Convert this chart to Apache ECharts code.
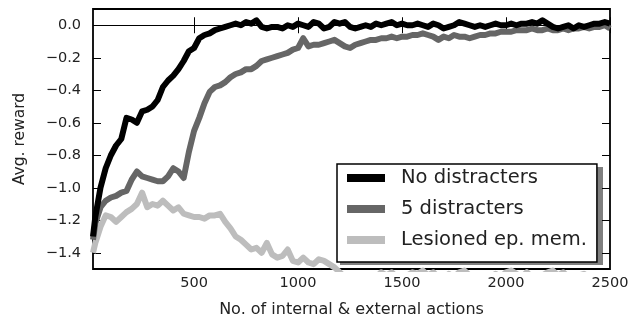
<!DOCTYPE html>
<html><head><meta charset="utf-8">
<script src="https://cdn.jsdelivr.net/npm/echarts@6/dist/echarts.min.js"></script>
<style>html,body{margin:0;padding:0;background:#fff}#c{width:639px;height:323px}</style>
</head><body><div id="c"></div>
<script>
const seriesNames = ['No distracters', '5 distracters', 'Lesioned ep. mem.'];
const xTicks = [500, 1000, 1500, 2000, 2500];
const yTicks = [-1.4, -1.2, -1.0, -0.8, -0.6, -0.4, -0.2, 0.0];
const steps = [14,25,50,75,100,125,150,175,200,225,250,275,300,325,350,375,400,425,450,475,500,525,550,575,600,625,650,675,700,725,750,775,800,825,850,875,900,925,950,975,1000,1025,1050,1075,1100,1125,1150,1175,1200,1225,1250,1275,1300,1325,1350,1375,1400,1425,1450,1475,1500,1525,1550,1575,1600,1625,1650,1675,1700,1725,1750,1775,1800,1825,1850,1875,1900,1925,1950,1975,2000,2025,2050,2075,2100,2125,2150,2175,2200,2225,2250,2275,2300,2325,2350,2375,2400,2425,2450,2475,2500];
const noDistracters = [-1.30,-1.18,-1.00,-0.88,-0.80,-0.74,-0.70,-0.57,-0.58,-0.60,-0.53,-0.52,-0.50,-0.46,-0.38,-0.34,-0.31,-0.27,-0.22,-0.16,-0.14,-0.08,-0.06,-0.05,-0.03,-0.02,-0.01,0.00,0.01,0.00,0.02,0.01,0.03,-0.01,-0.02,-0.01,-0.01,-0.02,0.00,-0.01,0.01,0.00,-0.01,0.02,0.01,-0.02,-0.01,0.02,0.01,0.02,-0.01,-0.02,-0.01,0.00,-0.01,0.01,0.00,0.01,0.02,0.00,0.01,0.00,0.00,0.01,0.00,-0.01,0.01,0.00,-0.02,-0.01,0.00,0.02,0.01,0.00,-0.01,0.00,-0.01,0.00,0.01,0.00,0.00,0.01,0.00,0.01,0.01,0.02,0.01,0.03,0.01,-0.01,-0.02,-0.01,0.00,-0.02,0.00,-0.01,0.00,0.01,0.01,0.02,0.01];
const fiveDistracters = [-1.32,-1.22,-1.12,-1.08,-1.06,-1.05,-1.03,-1.02,-0.95,-0.90,-0.93,-0.94,-0.95,-0.96,-0.96,-0.93,-0.88,-0.90,-0.94,-0.78,-0.65,-0.57,-0.48,-0.41,-0.38,-0.37,-0.35,-0.32,-0.30,-0.29,-0.27,-0.27,-0.25,-0.22,-0.21,-0.20,-0.19,-0.18,-0.17,-0.15,-0.14,-0.08,-0.13,-0.12,-0.12,-0.11,-0.10,-0.09,-0.11,-0.13,-0.14,-0.12,-0.11,-0.10,-0.09,-0.09,-0.08,-0.08,-0.07,-0.08,-0.07,-0.07,-0.06,-0.06,-0.05,-0.06,-0.07,-0.09,-0.07,-0.08,-0.06,-0.07,-0.07,-0.08,-0.07,-0.06,-0.06,-0.05,-0.05,-0.04,-0.04,-0.04,-0.03,-0.03,-0.03,-0.02,-0.03,-0.03,-0.02,-0.03,-0.03,-0.02,-0.03,-0.02,-0.02,-0.01,-0.02,-0.01,-0.01,0.00,-0.02];
const lesioned = [-1.40,-1.34,-1.24,-1.17,-1.18,-1.21,-1.18,-1.15,-1.13,-1.10,-1.03,-1.12,-1.10,-1.11,-1.08,-1.11,-1.14,-1.12,-1.16,-1.17,-1.18,-1.18,-1.19,-1.17,-1.17,-1.16,-1.21,-1.25,-1.30,-1.32,-1.35,-1.38,-1.37,-1.40,-1.34,-1.41,-1.43,-1.42,-1.38,-1.45,-1.46,-1.43,-1.46,-1.47,-1.44,-1.45,-1.47,-1.49,-1.52,-1.55,-1.56,-1.54,-1.56,-1.55,-1.57,-1.55,-1.52,-1.54,-1.52,-1.55,-1.56,-1.54,-1.52,-1.53,-1.51,-1.54,-1.52,-1.55,-1.56,-1.53,-1.55,-1.52,-1.51,-1.54,-1.56,-1.55,-1.57,-1.55,-1.53,-1.55,-1.52,-1.51,-1.53,-1.55,-1.52,-1.55,-1.57,-1.54,-1.52,-1.51,-1.54,-1.52,-1.55,-1.57,-1.54,-1.53,-1.55,-1.57,-1.54,-1.56,-1.55];
const colors = ['#000000', '#666666', '#bdbdbd'];

const font = 'DejaVu Sans';
const pair = arr => steps.map((x, i) => [x, arr[i]]);
const yFmt = v => Math.abs(v) < 1e-9 ? '0.0' : '\u2212' + Math.abs(v).toFixed(1);

const chart = echarts.init(document.getElementById('c'), null, {renderer: 'canvas'});
const xBase = {
  type: 'value', min: 14, max: 2500,
  splitLine: {show: false},
  axisLine: {show: false},
  axisTick: {show: true, inside: true, length: 8, customValues: xTicks, lineStyle: {color: '#000', width: 1}}
};
const yBase = {
  type: 'value', min: -1.5, max: 0.1,
  splitLine: {show: false},
  axisLine: {show: false},
  axisTick: {show: true, inside: true, length: 8, customValues: yTicks, lineStyle: {color: '#000', width: 1}}
};
const dataSets = [noDistracters, fiveDistracters, lesioned];
chart.setOption({
  animation: false,
  grid: {left: 93, right: 29, top: 9, bottom: 50, show: true, borderColor: '#000', borderWidth: 1.8, backgroundColor: 'transparent'},
  xAxis: [
    Object.assign({}, xBase, {
      position: 'bottom',
      name: 'No. of internal & external actions', nameLocation: 'middle', nameGap: 33,
      nameTextStyle: {fontFamily: font, fontSize: 16, color: '#222'},
      axisLabel: {customValues: xTicks, margin: 7, fontFamily: font, fontSize: 14.5, color: '#222', formatter: v => String(v)}
    }),
    Object.assign({}, xBase, {position: 'top', axisLabel: {show: false}})
  ],
  yAxis: [
    Object.assign({}, yBase, {
      position: 'left',
      name: 'Avg. reward', nameLocation: 'middle', nameGap: 65,
      nameTextStyle: {fontFamily: font, fontSize: 15.5, color: '#222'},
      axisLabel: {customValues: yTicks, margin: 12, fontFamily: font, fontSize: 14.5, color: '#222', formatter: yFmt}
    }),
    Object.assign({}, yBase, {position: 'right', axisLabel: {show: false}})
  ],
  graphic: [{
    type: 'rect', left: 340, top: 167, z: 50,
    shape: {width: 263, height: 98},
    style: {fill: 'rgba(0,0,0,0.5)'}
  }],
  legend: {
    orient: 'vertical', left: 337, top: 164, z: 60,
    padding: [3, 10, 11, 10], itemGap: 9,
    itemWidth: 38, itemHeight: 8, icon: 'rect',
    backgroundColor: '#fff', borderColor: '#000', borderWidth: 1.5, borderRadius: 0,
    textStyle: {fontFamily: font, fontSize: 19.5, color: '#222', lineHeight: 22, padding: [0, 0, 0, 11]},
    data: seriesNames
  },
  series: seriesNames.map((name, i) => ({
    name: name, type: 'line', xAxisIndex: 0, yAxisIndex: 0,
    data: pair(dataSets[i]), symbol: 'none', clip: true,
    lineStyle: {color: colors[i], width: 6, join: 'round'},
    itemStyle: {color: colors[i]},
    z: 10 - i,
    markLine: i === 0 ? {
      silent: true, symbol: 'none', label: {show: false},
      lineStyle: {color: '#000', width: 1, type: 'solid'},
      data: [{yAxis: 0}]
    } : undefined
  }))
});
</script></body></html>
